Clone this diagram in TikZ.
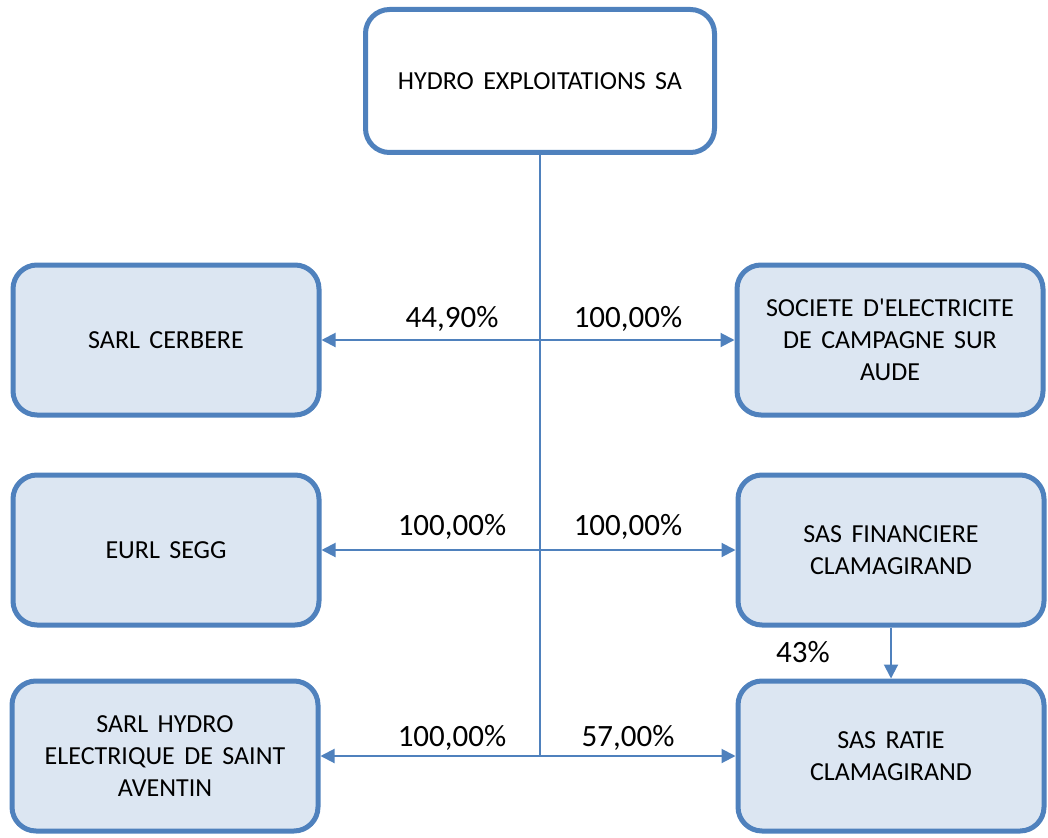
\documentclass[tikz,border=0pt]{standalone}
\usepackage{fontspec}
\setmainfont{Carlito}[Ligatures=TeXOff, WordSpace=1.6]
\usetikzlibrary{arrows.meta,positioning}
\definecolor{boxblue}{HTML}{4F81BD}
\definecolor{boxfill}{HTML}{DCE6F2}

\begin{document}
\begin{tikzpicture}[x=1pt, y=-1pt,
    company/.style={draw=boxblue, line width=5pt, rounded corners=24pt, fill=boxfill,
        minimum width=306pt, minimum height=150pt, inner sep=0pt, align=center,
        font=\fontsize{26}{32}\selectfont},
    link/.style={draw=boxblue, line width=2pt, -{Triangle[length=14pt,width=14pt]}},
    share/.style={anchor=base, font=\fontsize{31}{36}\selectfont}]
    \useasboundingbox (0,0) rectangle (1048,837);

    % Holding
    \node[company, fill=white, minimum width=349pt, minimum height=143pt] (holding) at (540,81) {HYDRO EXPLOITATIONS SA};

    % Subsidiaries
    \node[company] (cerbere) at (166,340) {SARL CERBERE};
    \node[company] (societe) at (890,340) {SOCIETE D'ELECTRICITE\\DE CAMPAGNE SUR\\AUDE};
    \node[company] (segg) at (166,550) {EURL SEGG};
    \node[company] (financiere) at (891,550) {SAS FINANCIERE\\CLAMAGIRAND};
    \node[company] (hydro) at (165,756) {SARL HYDRO\\ELECTRIQUE DE SAINT\\AVENTIN};
    \node[company] (ratie) at (891,756) {SAS RATIE\\CLAMAGIRAND};

    % Spine
    \coordinate (row1) at (540,340);
    \coordinate (row2) at (540,550);
    \coordinate (row3) at (540,756);
    \draw[boxblue, line width=2.5pt] (holding.south) -- (row3);

    % Holdings
    \draw[link] (row1) -- (cerbere);
    \draw[link] (row1) -- (societe);
    \draw[link] (row2) -- (segg);
    \draw[link] (row2) -- (financiere);
    \draw[link] (row3) -- (hydro);
    \draw[link] (row3) -- (ratie);
    \draw[link] (financiere) -- (ratie);

    % Percentages
    \node[share] (cerbere pct) at (452,327) {44,90\%};
    \node[share] (societe pct) at (628,327) {100,00\%};
    \node[share] (segg pct) at (452,535) {100,00\%};
    \node[share] (financiere pct) at (628,535) {100,00\%};
    \node[share] (hydro pct) at (452,746) {100,00\%};
    \node[share] (ratie pct) at (628,746) {57,00\%};
    \node[share] (clamagirand pct) at (803,662) {43\%};
\end{tikzpicture}
\end{document}
